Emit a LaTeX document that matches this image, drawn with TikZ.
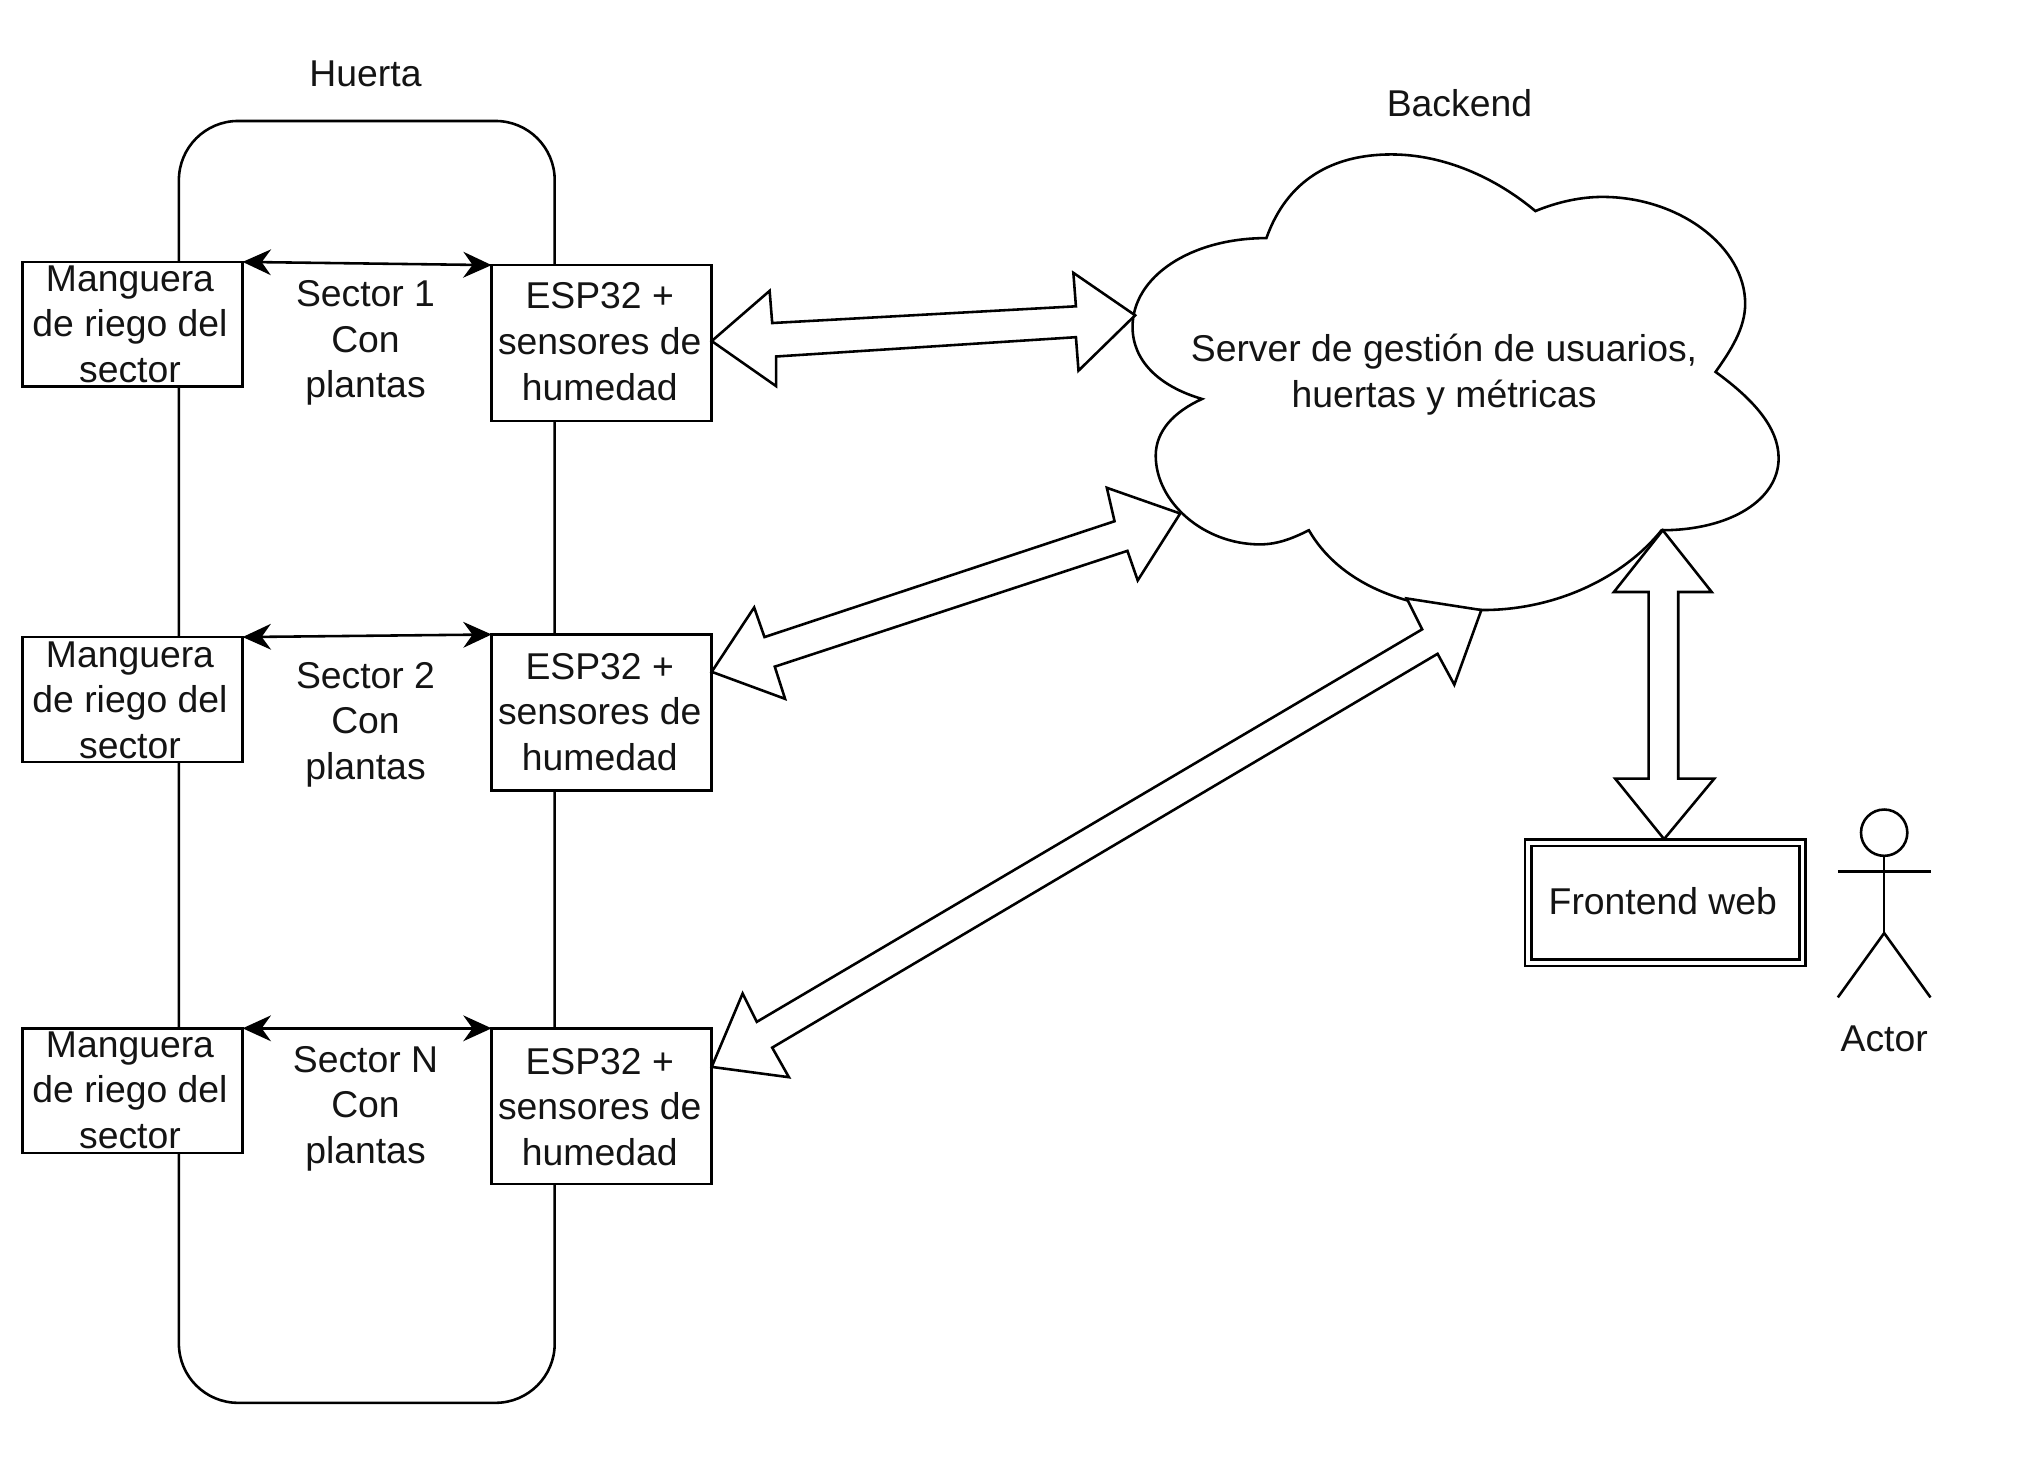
\documentclass[tikz,border=0pt]{standalone}
\usepackage{fontspec}
\setmainfont{Liberation Sans}
\usetikzlibrary{arrows.meta}
\tikzset{
  every path/.style={line width=1pt},
  txt/.style={font=\fontsize{14.5}{17.7}\selectfont,align=center,inner sep=0pt,text=black!92},
  mbox/.style={draw,fill=white,minimum width=85.5pt,minimum height=48.5pt,inner sep=0pt,outer sep=0pt},
  ebox/.style={draw,fill=white,minimum width=85.5pt,minimum height=60.5pt,inner sep=0pt,outer sep=0pt},
  thin arrow/.style={{Stealth[length=11pt,width=10pt]}-{Stealth[length=11pt,width=10pt]}},
  block/.style={draw,fill=white,line join=miter},
}
\begin{document}
\begin{tikzpicture}[x=0.5pt,y=-0.5pt]
\useasboundingbox (0,0) rectangle (1568,1134.4);
\fill[white] (0,0) rectangle (1568,1134.4);
% Huerta container
\node[draw,rounded corners=23pt,minimum width=146pt,minimum height=498pt,inner sep=0pt,outer sep=0pt] (huerta) at (285,592) {};
\node[txt] (huertat) at (284,57) {Huerta};
\node[txt] (backendt) at (1134,80) {Backend};
% boxes
\node[mbox] (m1) at (103,252) {};
\node[mbox] (m2) at (103,543.5) {};
\node[mbox] (m3) at (103,847.5) {};
\node[ebox] (e1) at (467.5,266.5) {};
\node[ebox] (e2) at (467.5,553.5) {};
\node[ebox] (e3) at (467.5,859.5) {};
\node[txt] (m1t) at (101,252) {Manguera\\de riego del\\sector};
\node[txt] (m2t) at (101,544) {Manguera\\de riego del\\sector};
\node[txt] (m3t) at (101,847) {Manguera\\de riego del\\sector};
\node[txt] (e1t) at (466,265.5) {ESP32 +\\sensores de\\humedad};
\node[txt] (e2t) at (466,553) {ESP32 +\\sensores de\\humedad};
\node[txt] (e3t) at (466,860) {ESP32 +\\sensores de\\humedad};
\node[txt] (s1) at (284,266.5) {Sector 1\\Con\\plantas};
\node[txt] (s2) at (284,563) {Sector 2\\Con\\plantas};
\node[txt] (s3) at (284,861.5) {Sector N\\Con\\plantas};
\draw[thin arrow] (m1.north east) -- (e1.north west);
\draw[thin arrow] (m2.north east) -- (e2.north west);
\draw[thin arrow] (m3.north east) -- (e3.north west);
% cloud
\draw[fill=white,line join=miter]
  (984,185) .. controls (1000,140) and (1035,120) .. (1081,120)
  .. controls (1122,120) and (1162,138) .. (1193,164)
  .. controls (1210,157) and (1228,153) .. (1245,153)
  .. controls (1305,153) and (1356,192) .. (1356,236)
  .. controls (1356,255) and (1345,272) .. (1333,289)
  .. controls (1362,310) and (1382,332) .. (1382,356)
  .. controls (1382,388) and (1345,412) .. (1291,412)
  .. controls (1262,448) and (1210,474) .. (1152,474)
  .. controls (1090,474) and (1040,452) .. (1017,412)
  .. controls (1005,418) and (993,423) .. (979,423)
  .. controls (935,423) and (898,390) .. (898,354)
  .. controls (898,335) and (912,320) .. (934,310)
  .. controls (900,300) and (880,280) .. (880,254)
  .. controls (880,215) and (925,185) .. (984,185) -- cycle;
\node[txt] (server) at (1122,291) {Server de gestión de usuarios,\\huertas y métricas};
% block arrows
\draw[block] (553,265) -- (598,226) -- (600,251) -- (836,238) -- (834,212) -- (882,245) -- (838,288) -- (836,262) -- (603,277) -- (603,300) -- cycle;
\draw[block] (553,522) -- (586,472) -- (594,495) -- (866,405) -- (860,379) -- (917,399) -- (884,451) -- (876,428) -- (602,518) -- (610,543) -- cycle;
\draw[block] (553,829) -- (577,772) -- (588,794) -- (1105,489) -- (1093,465) -- (1151,474) -- (1130,532) -- (1117,508) -- (600,814) -- (613,837) -- cycle;
\draw[block] (1292,412) -- (1330,460) -- (1304,460) -- (1304,605) -- (1332,605) -- (1293,652) -- (1255,605) -- (1281,605) -- (1281,460) -- (1254,460) -- cycle;
% frontend
\node[draw,double,double distance=1.5pt,fill=white,minimum width=106.5pt,minimum height=46.5pt,inner sep=0pt,outer sep=0pt] (front) at (1294,701.5) {};
\node[txt] (frontt) at (1292,700) {Frontend web};
% actor
\node[draw,circle,minimum size=18pt,inner sep=0pt,outer sep=0pt] (head) at (1464,647) {};
\coordinate (hip) at (1464,725);
\coordinate (arml) at (1428,677);
\coordinate (armr) at (1500,677);
\coordinate (legl) at (1428,775);
\coordinate (legr) at (1500,775);
\draw (head.south) -- (hip);
\draw (arml) -- (armr);
\draw (legl) -- (hip) -- (legr);
\node[txt] (actor) at (1464,807) {Actor};
\end{tikzpicture}
\end{document}
